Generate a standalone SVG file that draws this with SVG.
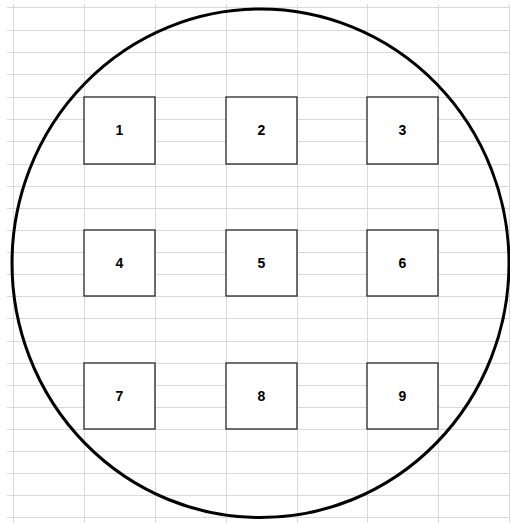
<svg xmlns="http://www.w3.org/2000/svg" width="510" height="523" viewBox="0 0 510 523">
  <style>
    .grid line { stroke: #d9d9d9; stroke-width: 1; }
    .box rect { fill: #ffffff; stroke: #262626; stroke-width: 1.3; }
    .box text { font-family: "Liberation Sans", Arial, sans-serif; font-weight: bold; font-size: 14px; fill: #000; text-anchor: middle; }
    .outline { fill: none; stroke: #000; stroke-width: 3; }
  </style>
  <rect x="0" y="0" width="510" height="523" fill="#ffffff"/>
  <g class="grid">
    <line x1="13.5" y1="4" x2="13.5" y2="523"/>
    <line x1="84.5" y1="4" x2="84.5" y2="523"/>
    <line x1="155.5" y1="4" x2="155.5" y2="523"/>
    <line x1="226.5" y1="4" x2="226.5" y2="523"/>
    <line x1="297.5" y1="4" x2="297.5" y2="523"/>
    <line x1="367.5" y1="4" x2="367.5" y2="523"/>
    <line x1="438.5" y1="4" x2="438.5" y2="523"/>
    <line x1="509.5" y1="4" x2="509.5" y2="523"/>
    <line x1="7" y1="7.5" x2="510" y2="7.5"/>
    <line x1="7" y1="30.5" x2="510" y2="30.5"/>
    <line x1="7" y1="52.5" x2="510" y2="52.5"/>
    <line x1="7" y1="74.5" x2="510" y2="74.5"/>
    <line x1="7" y1="97.5" x2="510" y2="97.5"/>
    <line x1="7" y1="119.5" x2="510" y2="119.5"/>
    <line x1="7" y1="141.5" x2="510" y2="141.5"/>
    <line x1="7" y1="164.5" x2="510" y2="164.5"/>
    <line x1="7" y1="186.5" x2="510" y2="186.5"/>
    <line x1="7" y1="208.5" x2="510" y2="208.5"/>
    <line x1="7" y1="230.5" x2="510" y2="230.5"/>
    <line x1="7" y1="252.5" x2="510" y2="252.5"/>
    <line x1="7" y1="274.5" x2="510" y2="274.5"/>
    <line x1="7" y1="296.5" x2="510" y2="296.5"/>
    <line x1="7" y1="318.5" x2="510" y2="318.5"/>
    <line x1="7" y1="341.5" x2="510" y2="341.5"/>
    <line x1="7" y1="363.5" x2="510" y2="363.5"/>
    <line x1="7" y1="385.5" x2="510" y2="385.5"/>
    <line x1="7" y1="407.5" x2="510" y2="407.5"/>
    <line x1="7" y1="429.5" x2="510" y2="429.5"/>
    <line x1="7" y1="451.5" x2="510" y2="451.5"/>
    <line x1="7" y1="473.5" x2="510" y2="473.5"/>
    <line x1="7" y1="495.5" x2="510" y2="495.5"/>
    <line x1="7" y1="517.5" x2="510" y2="517.5"/>
  </g>
  <g id="node1" class="box"><rect x="84" y="97" width="71" height="67"/><text x="119.5" y="135">1</text></g>
  <g id="node2" class="box"><rect x="226" y="97" width="71" height="67"/><text x="261.5" y="135">2</text></g>
  <g id="node3" class="box"><rect x="367" y="97" width="71" height="67"/><text x="402.5" y="135">3</text></g>
  <g id="node4" class="box"><rect x="84" y="230" width="71" height="66"/><text x="119.5" y="268">4</text></g>
  <g id="node5" class="box"><rect x="226" y="230" width="71" height="66"/><text x="261.5" y="268">5</text></g>
  <g id="node6" class="box"><rect x="367" y="230" width="71" height="66"/><text x="402.5" y="268">6</text></g>
  <g id="node7" class="box"><rect x="84" y="363" width="71" height="66"/><text x="119.5" y="401">7</text></g>
  <g id="node8" class="box"><rect x="226" y="363" width="71" height="66"/><text x="261.5" y="401">8</text></g>
  <g id="node9" class="box"><rect x="367" y="363" width="71" height="66"/><text x="402.5" y="401">9</text></g>
  <g id="connectors"></g>
  <g id="wafer"><ellipse class="outline" cx="260.5" cy="263.3" rx="248.5" ry="254.3"/></g>
</svg>
